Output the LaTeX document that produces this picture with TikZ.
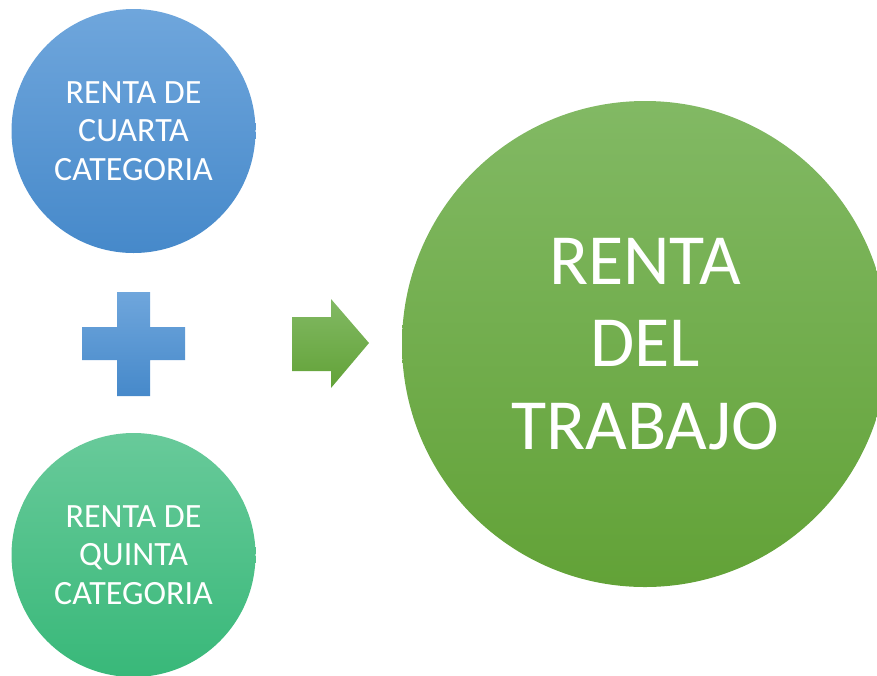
\documentclass[tikz,border=0pt]{standalone}
\usepackage{fontspec}
\setmainfont{Carlito}
\definecolor{blueTop}{HTML}{6FA6DC}
\definecolor{blueBot}{HTML}{4689CA}
\definecolor{mintTop}{HTML}{68CA9A}
\definecolor{mintBot}{HTML}{38B879}
\definecolor{greenTop}{HTML}{82B964}
\definecolor{greenBot}{HTML}{62A237}
\tikzset{
  smallcircle/.style={circle, minimum size=244pt, inner sep=0pt, text=white, align=center,
    font=\fontsize{34}{38.5}\selectfont},
  bigcircle/.style={circle, minimum size=486pt, inner sep=0pt, text=white, align=center,
    font=\fontsize{72}{82.5}\selectfont},
}
\begin{document}
\begin{tikzpicture}[x=1pt,y=-1pt]
\useasboundingbox (0,0) rectangle (877,675);
\node[smallcircle, top color=blueTop, bottom color=blueBot] (cuarta) at (133.5,131) {RENTA DE\\CUARTA\\CATEGORIA};
\node[smallcircle, top color=mintTop, bottom color=mintBot] (quinta) at (133.5,555) {RENTA DE\\QUINTA\\CATEGORIA};
\node[bigcircle, top color=greenTop, bottom color=greenBot] (trabajo) at (645,344) {RENTA\\DEL\\TRABAJO};
% plus sign
\shade[top color=blueTop, bottom color=blueBot]
  (117,292) -- (150,292) -- (150,327) -- (185,327) -- (185,360) -- (150,360)
  -- (150,396) -- (117,396) -- (117,360) -- (82,360) -- (82,327) -- (117,327) -- cycle;
% arrow
\shade[top color=greenTop, bottom color=greenBot]
  (292,317) -- (331,317) -- (331,299) -- (369,343) -- (331,388) -- (331,371) -- (292,371) -- cycle;
\end{tikzpicture}
\end{document}
